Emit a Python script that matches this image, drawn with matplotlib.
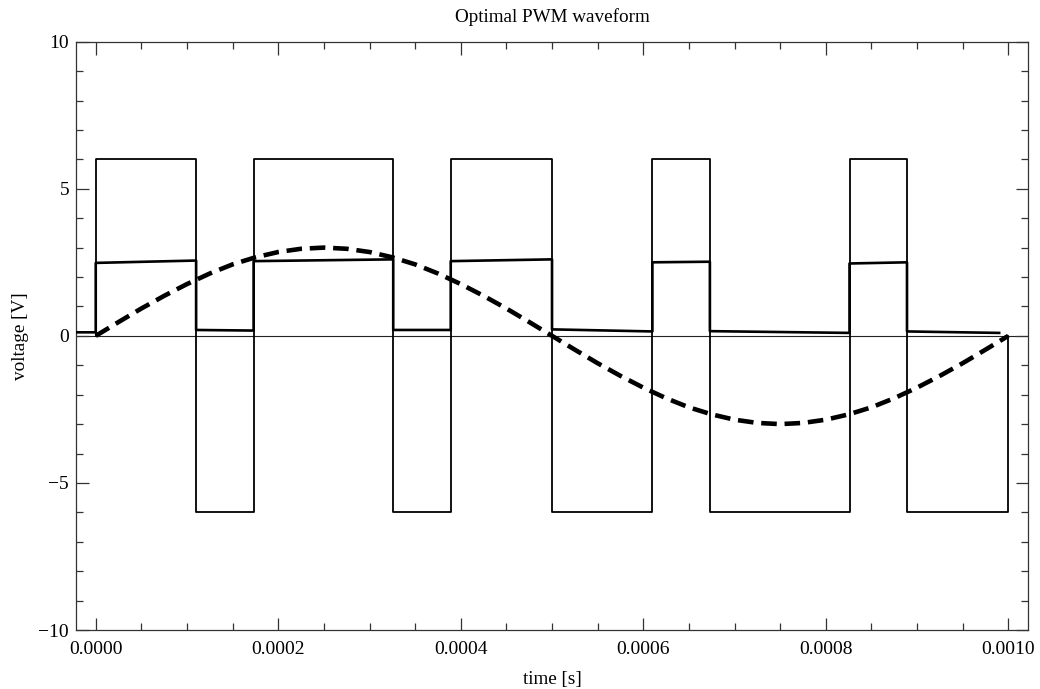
import matplotlib
matplotlib.use("Agg")
import matplotlib.pyplot as plt
from matplotlib.ticker import MultipleLocator, FormatStrFormatter

plt.rcParams['font.family'] = ['Liberation Serif', 'DejaVu Serif']
plt.rcParams['axes.unicode_minus'] = True

# PWM square wave (switching times and levels)
pwm_t = [0.0, 0.0, 0.00011, 0.00011, 0.000173, 0.000173, 0.000326, 0.000326,
         0.000389, 0.000389, 0.0005, 0.0005, 0.00061, 0.00061, 0.000673, 0.000673,
         0.000826, 0.000826, 0.000889, 0.000889, 0.001, 0.001]
pwm_v = [0, 6, 6, -6, -6, 6, 6, -6, -6, 6, 6, -6, -6, 6, 6, -6, -6, 6, 6, -6, -6, 0]

# measured signal (segment start/end levels)
meas_t = [-0.0000216, 0.0, 0.0, 0.00011, 0.00011, 0.000173, 0.000173, 0.000326,
          0.000326, 0.000389, 0.000389, 0.0005, 0.0005, 0.00061, 0.00061, 0.000673,
          0.000673, 0.000826, 0.000826, 0.000889, 0.000889, 0.00099]
meas_v = [0.12, 0.12, 2.48, 2.56, 0.2, 0.18, 2.54, 2.6, 0.2, 0.2, 2.54, 2.6,
          0.22, 0.15, 2.5, 2.52, 0.16, 0.1, 2.46, 2.5, 0.15, 0.1]

# reference sine (read every 25 us)
ref_t = [k * 0.000025 for k in range(41)]
ref_v = [0.0, 0.47, 0.93, 1.36, 1.76, 2.12, 2.43, 2.67, 2.85, 2.96, 3.0,
         2.96, 2.85, 2.67, 2.43, 2.12, 1.76, 1.36, 0.93, 0.47, 0.0,
         -0.47, -0.93, -1.36, -1.76, -2.12, -2.43, -2.67, -2.85, -2.96, -3.0,
         -2.96, -2.85, -2.67, -2.43, -2.12, -1.76, -1.36, -0.93, -0.47, 0.0]

fig = plt.figure(figsize=(10.4, 6.89), dpi=100)
ax = fig.add_axes([0.0731, 0.0856, 0.9151, 0.8539])

ax.axhline(0, color='#222222', lw=0.8, zorder=1)
ax.plot(pwm_t, pwm_v, color='black', lw=1.3, zorder=2)
ax.plot(meas_t, meas_v, color='black', lw=1.9, zorder=3)
ax.plot(ref_t, ref_v, color='black', lw=3.3, dashes=(3.4, 1.7), zorder=4)

ax.set_xlim(-0.0000216, 0.0010213)
ax.set_ylim(-10, 10)
ax.xaxis.set_major_locator(MultipleLocator(0.0002))
ax.xaxis.set_minor_locator(MultipleLocator(0.00005))
ax.xaxis.set_major_formatter(FormatStrFormatter('%.4f'))
ax.yaxis.set_major_locator(MultipleLocator(5))
ax.yaxis.set_minor_locator(MultipleLocator(1))

ax.tick_params(which='both', direction='in', top=True, right=True,
               color='#333333', width=0.9, labelsize=14)
ax.tick_params(axis='x', pad=8)
ax.tick_params(axis='y', pad=5)
ax.tick_params(which='major', length=9)
ax.tick_params(which='minor', length=5)
for s in ax.spines.values():
    s.set_color('#333333')
    s.set_linewidth(0.9)

ax.set_title('Optimal PWM waveform', fontsize=13.8, pad=14)
ax.set_xlabel('time [s]', fontsize=13.8, labelpad=9)
ax.set_ylabel('voltage [V]', fontsize=13.8, labelpad=7)

fig.savefig('out.png', dpi=100)
